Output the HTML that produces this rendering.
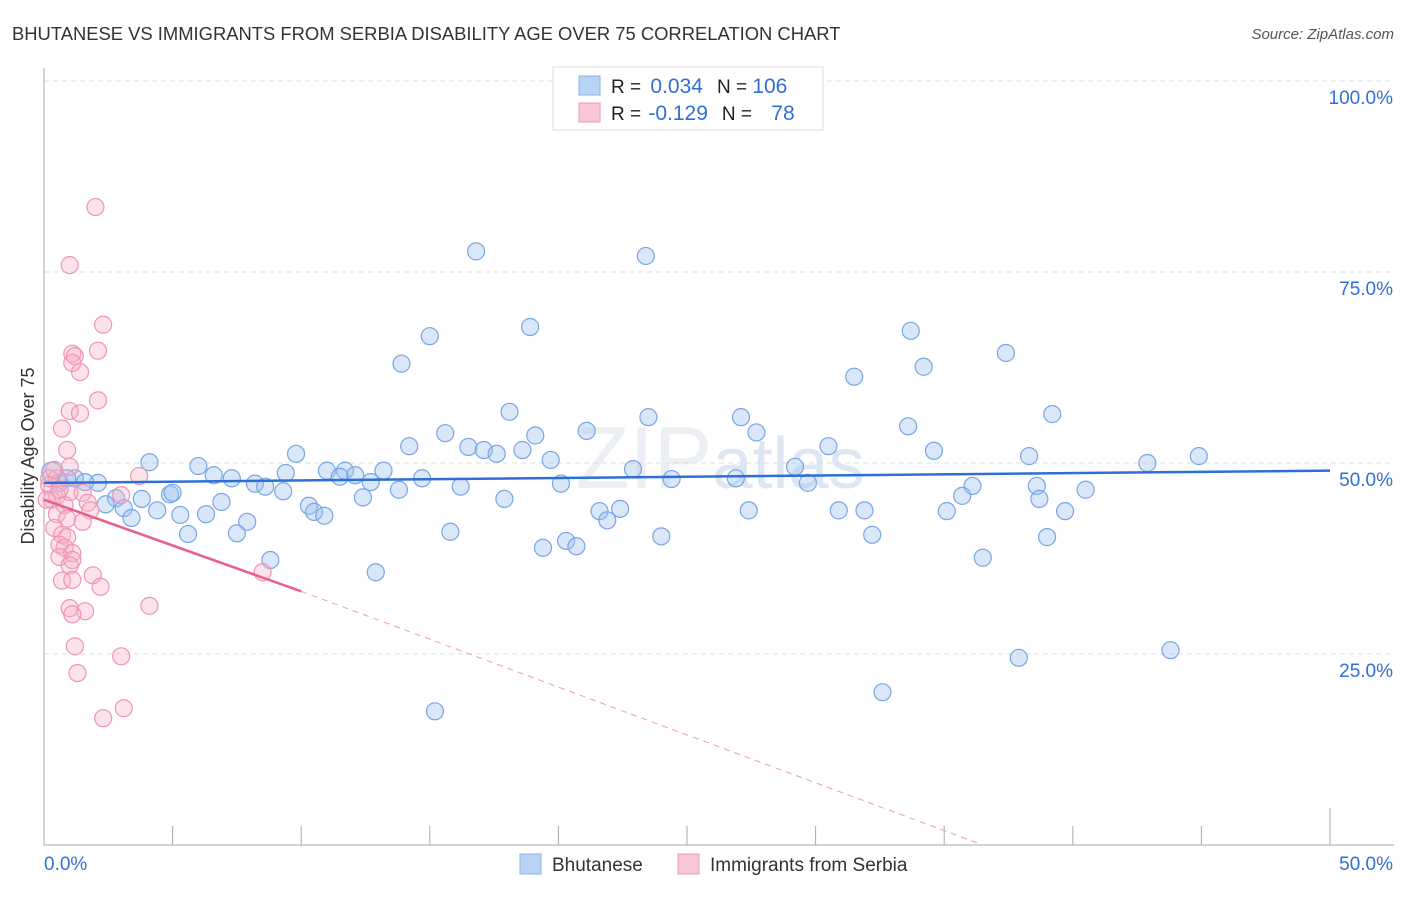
<!DOCTYPE html>
<html><head><meta charset="utf-8">
<style>
body{margin:0;background:#fff;font-family:"Liberation Sans",sans-serif;}
svg text{font-family:"Liberation Sans",sans-serif;}
</style></head><body>
<svg id="chart" width="1406" height="892" xmlns="http://www.w3.org/2000/svg">
<text x="12" y="40" font-size="18.4" fill="#333">BHUTANESE VS IMMIGRANTS FROM SERBIA DISABILITY AGE OVER 75 CORRELATION CHART</text>
<text x="1394" y="39" font-size="15" fill="#555" font-style="italic" text-anchor="end">Source: ZipAtlas.com</text>
<text x="720" y="488" font-size="88" fill="#eceff3" text-anchor="middle" font-family="Liberation Serif">ZIP<tspan font-family="Liberation Sans" font-size="72" fill="#dde7f4">atlas</tspan></text>
<g id="grid"></g>
<g id="axes"></g>
<g id="marks"></g>
<g id="trends"></g>
<text transform="translate(34,456) rotate(-90)" font-size="18" fill="#333" text-anchor="middle">Disability Age Over 75</text>
<g>
<rect x="553" y="67" width="270" height="63" fill="#fff" stroke="#ddd"/>
<rect x="579" y="76" width="21" height="19" fill="#b9d3f5" stroke="#8ab2e8"/>
<rect x="579" y="103" width="21" height="19" fill="#f9c6d6" stroke="#ef9ab5"/>
<text x="611" y="93" font-size="19" fill="#222">R = <tspan fill="#2f6fd6" dx="4" font-size="21">0.034</tspan><tspan fill="#222" dx="14">N = </tspan><tspan fill="#2f6fd6" font-size="21">106</tspan></text>
<text x="611" y="120" font-size="19" fill="#222">R = <tspan fill="#2f6fd6" dx="2" font-size="21">-0.129</tspan><tspan fill="#222" dx="14">N = </tspan><tspan fill="#2f6fd6" dx="14" font-size="21">78</tspan></text>
</g>
<g>
<rect x="520" y="854" width="21" height="20" fill="#b9d3f5" stroke="#8ab2e8"/>
<text x="552" y="871" font-size="19" fill="#333">Bhutanese</text>
<rect x="678" y="854" width="21" height="20" fill="#f9c6d6" stroke="#ef9ab5"/>
<text x="710" y="871" font-size="19" fill="#333">Immigrants from Serbia</text>
</g>
</svg>
<script>
const yTicks=[25,50,75,100];
const xTickLabels=["0.0%","50.0%"];
const blueX=[16.8,23.4,18.9,15.0,33.7,13.9,37.4,34.2,31.5,18.1,23.5,27.1,39.2,33.6,21.1,27.7,15.6,19.1,14.2,16.5,17.1,17.6,18.6,30.5,34.6,9.8,38.3,44.9,19.7,4.1,42.9,6.0,29.2,22.9,11.0,11.7,13.2,9.4,6.6,7.3,12.1,14.7,26.9,24.4,11.5,1.2,2.1,8.2,8.6,12.7,20.1,29.7,16.2,36.1,38.6,40.5,9.3,13.8,4.9,5.0,12.4,3.8,2.8,17.9,35.7,38.7,2.4,6.9,10.3,3.1,4.4,5.3,6.3,10.5,10.9,21.6,22.4,21.9,27.4,30.9,31.9,35.1,39.7,3.4,7.9,7.5,5.6,15.8,24.0,32.2,39.0,20.3,20.7,19.4,8.8,36.5,12.9,43.8,37.9,32.6,15.2,0.3,0.6,0.9,1.6];
const blueY=[77.7,77.1,67.8,66.6,67.3,63.0,64.4,62.6,61.3,56.7,56.0,56.0,56.4,54.8,54.2,54.0,53.9,53.6,52.2,52.1,51.7,51.2,51.7,52.2,51.6,51.2,50.9,50.9,50.4,50.1,50.0,49.6,49.5,49.2,49.0,49.0,49.0,48.7,48.4,48.0,48.4,48.0,48.0,47.9,48.2,48.0,47.4,47.3,46.9,47.5,47.3,47.4,46.9,47.0,47.0,46.5,46.3,46.5,45.9,46.1,45.5,45.3,45.4,45.3,45.7,45.3,44.6,44.9,44.4,44.1,43.8,43.2,43.3,43.6,43.1,43.7,44.0,42.5,43.8,43.8,43.8,43.7,43.7,42.8,42.3,40.8,40.7,41.0,40.4,40.6,40.3,39.8,39.1,38.9,37.3,37.6,35.7,25.5,24.5,20.0,17.5,48.8,47.4,48.0,47.5];
const pinkX=[2.0,1.0,2.3,2.1,1.1,1.2,1.1,1.4,2.1,1.0,1.4,0.7,0.9,1.0,3.7,0.5,0.2,1.0,1.5,3.0,0.5,0.3,0.8,1.7,1.8,0.5,0.9,1.5,0.4,0.7,0.9,0.6,0.8,1.1,0.6,1.1,1.0,8.5,1.9,0.7,1.1,2.2,4.1,1.0,1.6,1.1,1.2,3.0,1.3,3.1,2.3,0.2,0.4,0.1,0.6];
const pinkY=[83.5,75.9,68.1,64.7,64.3,64.0,63.1,61.9,58.2,56.8,56.5,54.5,51.7,49.5,48.3,48.0,47.1,46.2,46.1,45.8,45.7,45.2,44.5,44.8,43.8,43.3,42.7,42.3,41.5,40.6,40.3,39.3,38.9,38.2,37.7,37.3,36.6,35.7,35.3,34.6,34.7,33.8,31.3,31.0,30.6,30.2,26.0,24.7,22.5,17.9,16.6,48.0,49.1,45.2,46.5];
const blueTrend=[[0,47.4],[50,49.0]];
const pinkTrend=[[0,45.2],[10,33.2]];
const pinkDash=[[10,33.2],[36.5,0]];

const NS="http://www.w3.org/2000/svg";
const X0=44,X1=1330,Y0=845,Y100=81;
const sx=v=>X0+(X1-X0)*v/50;
const sy=v=>Y0-(Y0-Y100)*v/100;
function mk(t,a,p){const e=document.createElementNS(NS,t);for(const k in a)e.setAttribute(k,a[k]);p.appendChild(e);return e;}
const grid=document.getElementById('grid'),axes=document.getElementById('axes'),marks=document.getElementById('marks'),trends=document.getElementById('trends');
yTicks.forEach(t=>{
 const l=mk('line',{x1:X0,x2:1394,y1:sy(t),y2:sy(t),stroke:'#ddd','stroke-dasharray':'5,4'},grid);
 
 
 const tx=mk('text',{x:1393,y:sy(t)+23,'font-size':19,fill:'#2f6fd6','text-anchor':'end'},axes);
 tx.textContent=t.toFixed(1)+'%';
 
 
});
const ax=mk('line',{x1:X0,x2:1394,y1:Y0,y2:Y0,stroke:'#aaa'},axes);


const ay=mk('line',{x1:X0,x2:X0,y1:68,y2:Y0,stroke:'#aaa'},axes);


for(let i=1;i<=10;i++){
 const tk=mk('line',{x1:sx(i*5),x2:sx(i*5),y1:i==10?808:826,y2:Y0,stroke:'#aaa'},axes);
 
 
}
const xl0=mk('text',{x:44,y:870,'font-size':19,fill:'#2f6fd6'},axes);xl0.textContent=xTickLabels[0];


const xl1=mk('text',{x:1393,y:870,'font-size':19,fill:'#2f6fd6','text-anchor':'end'},axes);xl1.textContent=xTickLabels[1];


blueX.forEach((v,i)=>{
 const c=mk('circle',{cx:sx(v),cy:sy(blueY[i]),r:i==101?10:8.5,fill:'rgba(160,196,240,0.4)',stroke:'#78a6e4','stroke-width':1.2},marks);
 
 
});
pinkX.forEach((v,i)=>{
 const c=mk('circle',{cx:sx(v),cy:sy(pinkY[i]),r:8.5,fill:'rgba(246,176,198,0.35)',stroke:'#ef95b2','stroke-width':1.2},marks);
 
 
});
const bt=mk('line',{x1:sx(blueTrend[0][0]),y1:sy(blueTrend[0][1]),x2:sx(blueTrend[1][0]),y2:sy(blueTrend[1][1]),stroke:'#2d6fd8','stroke-width':2.5},trends);


const pt=mk('line',{x1:sx(pinkTrend[0][0]),y1:sy(pinkTrend[0][1]),x2:sx(pinkTrend[1][0]),y2:sy(pinkTrend[1][1]),stroke:'#e8608c','stroke-width':2.5},trends);


const pd=mk('line',{x1:sx(pinkDash[0][0]),y1:sy(pinkDash[0][1]),x2:sx(pinkDash[1][0]),y2:sy(pinkDash[1][1]),stroke:'#ee9ab5','stroke-width':1,'stroke-dasharray':'6,5'},trends);


</script>
</body></html>
